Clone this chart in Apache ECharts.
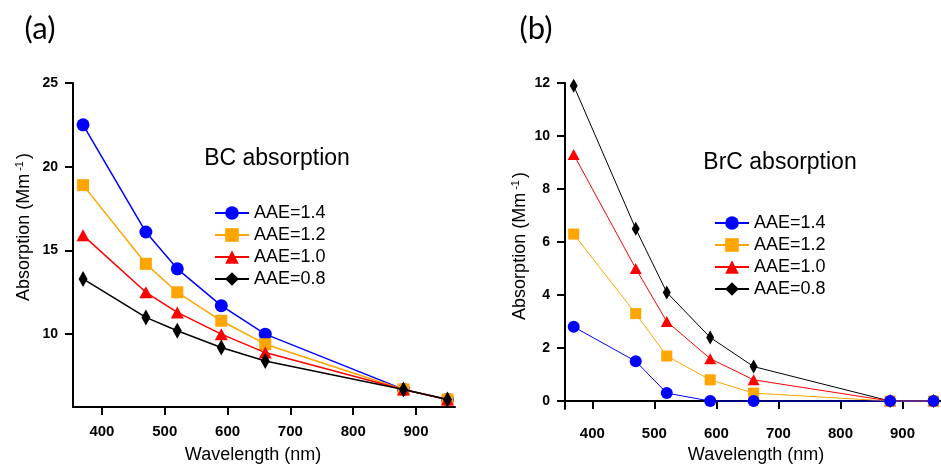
<!DOCTYPE html>
<html>
<head>
<meta charset="utf-8">
<script src="https://cdn.jsdelivr.net/npm/echarts@6/dist/echarts.min.js"></script>
<style>html,body{margin:0;padding:0;background:#fff}#c{width:941px;height:464px}</style>
</head>
<body>
<div id="c"></div>
<script>
var wavelengths = [370, 470, 520, 590, 660, 880, 950];
var seriesNames = ['AAE=1.4', 'AAE=1.2', 'AAE=1.0', 'AAE=0.8'];
var bc14 = [22.5, 16.1, 13.9, 11.7, 10.0, 6.7, 6.1];
var bc12 = [18.9, 14.2, 12.5, 10.8, 9.4, 6.7, 6.1];
var bc10 = [15.9, 12.5, 11.3, 10.0, 8.9, 6.7, 6.1];
var bc08 = [13.3, 11.0, 10.2, 9.2, 8.4, 6.7, 6.1];
var brc14 = [2.8, 1.5, 0.3, 0, 0, 0, 0];
var brc12 = [6.3, 3.3, 1.7, 0.8, 0.3, 0, 0];
var brc10 = [9.3, 5.0, 3.0, 1.6, 0.8, 0, 0];
var brc08 = [11.9, 6.5, 4.1, 2.4, 1.3, 0, 0];
var xTicks = [400, 500, 600, 700, 800, 900];
var bcTicks = [10, 15, 20, 25];
var brcTicks = [0, 2, 4, 6, 8, 10, 12];

var colors = ['#0000FF', '#FFA500', '#FF0000', '#000000'];
var symbols = ['circle', 'rect', 'triangle', 'diamond'];
var symSizesA = [13, 12, [13, 12], [9, 16]];
var symSizesB = [12, 11, [12, 11], [8, 14]];

function pairs(ys) { return wavelengths.map(function (w, i) { return [w, ys[i]]; }); }

var chart = echarts.init(document.getElementById('c'), null, {renderer: 'canvas'});

function xAxisDef(idx) {
  return {
    type: 'value', gridIndex: idx, min: idx === 0 ? 354 : 356, max: 962,
    splitLine: {show: false},
    axisLine: {lineStyle: {color: '#000', width: 2}},
    axisTick: {customValues: xTicks, length: 8, lineStyle: {color: '#000', width: 2}},
    axisLabel: {customValues: xTicks, margin: 17, color: '#000', fontWeight: 'bold', fontSize: 15, fontFamily: 'Liberation Sans, Arial'}
  };
}
function yAxisDef(idx, min, max, ticks, gap, shift) {
  return {
    type: 'value', gridIndex: idx, min: min, max: max,
    name: '{n|Absorption (Mm}{s|-1}{n|)}', nameLocation: 'middle', nameRotate: 90, nameGap: gap,
    nameTextStyle: {
      color: '#000', fontSize: 18, fontFamily: 'Liberation Sans, Arial', padding: [0, 0, 0, shift],
      rich: {
        n: {fontSize: 18, fontFamily: 'Liberation Sans, Arial', color: '#000'},
        s: {fontSize: 11, fontFamily: 'Liberation Sans, Arial', color: '#000', verticalAlign: 'top', padding: [0, 2, 10, 3]}
      }
    },
    splitLine: {show: false},
    axisLine: {show: true, lineStyle: {color: '#000', width: 2}},
    axisTick: {show: true, customValues: ticks, length: 8, lineStyle: {color: '#000', width: 2}},
    axisLabel: {customValues: ticks, margin: 15, color: '#000', fontWeight: 'bold', fontSize: 14, fontFamily: 'Liberation Sans, Arial'}
  };
}

var series = [];
var bcData = [bc14, bc12, bc10, bc08];
var brcData = [brc14, brc12, brc10, brc08];
for (var i = 0; i < 4; i++) {
  series.push({
    name: seriesNames[i], type: 'line', xAxisIndex: 0, yAxisIndex: 0,
    data: pairs(bcData[i]), symbol: symbols[i], symbolSize: symSizesA[i],
    lineStyle: {color: colors[i], width: 1.5}, itemStyle: {color: colors[i]},
    z: 2 + i, animation: false
  });
}
for (var j = 0; j < 4; j++) {
  series.push({
    name: seriesNames[j], type: 'line', xAxisIndex: 1, yAxisIndex: 1,
    data: pairs(brcData[j]), symbol: symbols[j], symbolSize: symSizesB[j],
    lineStyle: {color: colors[j], width: 1}, itemStyle: {color: colors[j]},
    z: 10 - j, animation: false
  });
}

function legendDef(left, top) {
  return {
    orient: 'vertical', left: left, top: top, itemWidth: 34, itemHeight: 17, itemGap: 4,
    data: seriesNames, selectedMode: false,
    textStyle: {fontSize: 18, lineHeight: 18, color: '#000', fontFamily: 'Liberation Sans, Arial'},
    padding: 0
  };
}

chart.setOption({
  animation: false,
  grid: [
    {left: 73, top: 83, width: 382, height: 324},
    {left: 565, top: 83, width: 383, height: 326}
  ],
  xAxis: [xAxisDef(0), xAxisDef(1)],
  yAxis: [yAxisDef(0, 5.65, 25, bcTicks, 38, 36), yAxisDef(1, -0.3, 12, brcTicks, 34, 0)],
  legend: [legendDef(214, 204), legendDef(714, 214)],
  series: series,
  graphic: [
    {type: 'text', x: 40, y: 29, style: {text: '(a)', font: '31px Lato, "Open Sans", sans-serif', fill: '#000', align: 'center', verticalAlign: 'middle'}},
    {type: 'text', x: 536, y: 29, style: {text: '(b)', font: '31px Lato, "Open Sans", sans-serif', fill: '#000', align: 'center', verticalAlign: 'middle'}},
    {type: 'text', x: 277, y: 159, style: {text: 'BC absorption', font: '23px "Liberation Sans", Arial', fill: '#000', align: 'center', verticalAlign: 'middle'}},
    {type: 'text', x: 780, y: 163, style: {text: 'BrC absorption', font: '23px "Liberation Sans", Arial', fill: '#000', align: 'center', verticalAlign: 'middle'}},
    {type: 'text', x: 253, y: 455, style: {text: 'Wavelength (nm)', font: '18px "Liberation Sans", Arial', fill: '#000', align: 'center', verticalAlign: 'middle'}},
    {type: 'text', x: 756, y: 455, style: {text: 'Wavelength (nm)', font: '18px "Liberation Sans", Arial', fill: '#000', align: 'center', verticalAlign: 'middle'}}
  ]
});
</script>
</body>
</html>
